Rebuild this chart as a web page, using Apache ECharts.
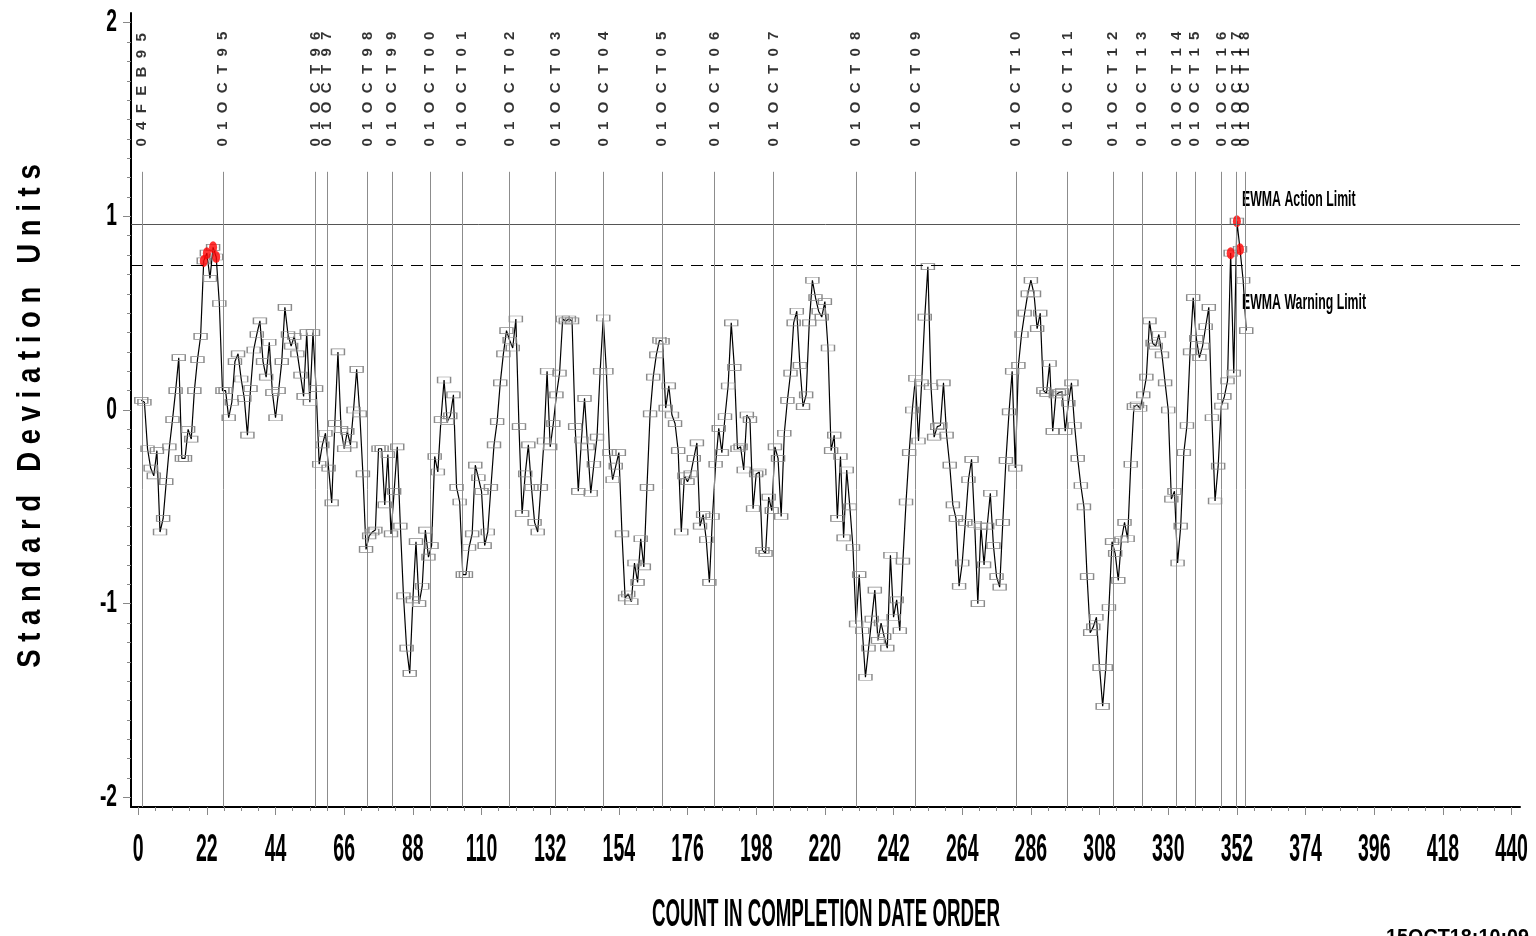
<!DOCTYPE html>
<html><head><meta charset="utf-8">
<script src="https://cdn.jsdelivr.net/npm/echarts@6/dist/echarts.min.js"></script>
<style>html,body{margin:0;padding:0;background:#fff;}#c{width:1536px;height:936px;}</style>
</head><body><div id="c"></div>
<script>
// EWMA values (standard deviation units), one per count 1..355, in completion-date order
const ewma = [
 0.05, 0.04,-0.2,-0.3,-0.34,-0.21,-0.63,-0.56,-0.37,-0.19,
-0.05, 0.1, 0.27,-0.25,-0.25,-0.1,-0.15, 0.1, 0.26, 0.38,
 0.77, 0.81, 0.68, 0.84, 0.79, 0.55, 0.1, 0.1,-0.04, 0.04,
 0.25, 0.29, 0.16, 0.06,-0.13, 0.11, 0.31, 0.39, 0.46, 0.25,
 0.17, 0.35, 0.09,-0.04, 0.1, 0.25, 0.53, 0.39, 0.33, 0.38,
 0.29, 0.18, 0.07, 0.4, 0.04, 0.4, 0.11,-0.28,-0.18,-0.12,
-0.3,-0.48,-0.07, 0.3,-0.1,-0.2,-0.11,-0.18, 0, 0.21,
-0.02,-0.33,-0.72,-0.65,-0.63,-0.62,-0.2,-0.2,-0.49,-0.23,
-0.64,-0.42,-0.19,-0.6,-0.96,-1.23,-1.36,-0.98,-0.68,-1.0,
-0.91,-0.62,-0.76,-0.70,-0.24,-0.32,-0.05, 0.155,-0.06,-0.03,
 0.078,-0.40,-0.475,-0.85,-0.85,-0.71,-0.64,-0.285,-0.35,-0.42,
-0.70,-0.63,-0.40,-0.18,-0.06, 0.14, 0.29, 0.41, 0.36, 0.32,
 0.47,-0.086,-0.535,-0.33,-0.18,-0.40,-0.58,-0.63,-0.40,-0.16,
 0.2,-0.19,-0.07, 0.078, 0.19, 0.47, 0.46, 0.47, 0.46,-0.086,
-0.42,-0.155, 0.06,-0.19,-0.43,-0.28,-0.14, 0.2, 0.475, 0.2,
-0.22,-0.36,-0.29,-0.22,-0.64,-0.97,-0.95,-0.99,-0.79,-0.89,
-0.665,-0.81,-0.40,-0.02, 0.17, 0.285, 0.36, 0.355, 0.01, 0.125,
-0.026,-0.07,-0.21,-0.63,-0.34,-0.37,-0.33,-0.25,-0.17,-0.60,
-0.54,-0.67,-0.89,-0.55,-0.28,-0.095,-0.22,-0.035, 0.124, 0.45,
 0.22,-0.2,-0.19,-0.31,-0.026,-0.05,-0.51,-0.33,-0.32,-0.725,
-0.74,-0.45,-0.52,-0.19,-0.25,-0.55,-0.12, 0.05, 0.19, 0.45,
 0.51, 0.23, 0.017, 0.078, 0.45, 0.67, 0.58, 0.51, 0.48, 0.56,
 0.32,-0.21,-0.13,-0.56,-0.24,-0.66,-0.31,-0.5,-0.71,-1.105,
-0.85,-1.14,-1.38,-1.23,-1.08,-0.93,-1.19,-1.10,-1.17,-1.23,
-0.75,-1.07,-0.98,-1.14,-0.78,-0.475,-0.22, 0.0, 0.164,-0.16,
 0.14, 0.48, 0.74, 0.12,-0.14,-0.086,-0.08, 0.14,-0.13,-0.285,
-0.49,-0.56,-0.91,-0.79,-0.58,-0.36,-0.255,-0.59,-1.0,-0.6,
-0.80,-0.6,-0.43,-0.7,-0.86,-0.915,-0.58,-0.26,-0.01, 0.2,
-0.30, 0.23, 0.39, 0.5, 0.6, 0.67, 0.6, 0.42, 0.50, 0.10,
 0.086, 0.24,-0.11, 0.078, 0.09, 0.095,-0.11, 0.035, 0.14,-0.08,
-0.25,-0.39,-0.50,-0.86,-1.15,-1.12,-1.07,-1.33,-1.53,-1.33,
-1.02,-0.68,-0.74,-0.88,-0.67,-0.58,-0.665,-0.28, 0.017, 0.026,
 0.009, 0.078, 0.17, 0.46, 0.345, 0.33, 0.39, 0.285, 0.14, 0.0,
-0.46,-0.42,-0.79,-0.6,-0.22,-0.08, 0.30, 0.58, 0.37, 0.27,
 0.33, 0.43, 0.53,-0.04,-0.47,-0.29, 0.02, 0.07, 0.15, 0.81,
 0.19, 0.975, 0.83, 0.67, 0.41
];
const xTicks = [0,22,44,66,88,110,132,154,176,198,220,242,264,286,308,330,352,374,396,418,440];
const yTicks = [-2,-1,0,1,2];
const refX = [1.3,27.2,56.8,60.6,73.5,81.4,93.5,103.8,119.0,133.7,149.1,167.9,184.6,203.6,229.9,249.0,281.2,297.7,312.3,321.7,332.7,338.6,347.1,351.9,354.6];
const refLabels = ['04FEB95','01OCT95','01OCT96','01OCT97','01OCT98','01OCT99','01OCT00','01OCT01','01OCT02','01OCT03','01OCT04','01OCT05','01OCT06','01OCT07','01OCT08','01OCT09','01OCT10','01OCT11','01OCT12','01OCT13','01OCT14','01OCT15','01OCT16','01OCT17','01OCT18'];
const actionLimit = 0.96;
const warningLimit = 0.75;
const actionLabel = 'EWMA Action Limit';
const warningLabel = 'EWMA Warning Limit';
const xTitle = 'COUNT IN COMPLETION DATE ORDER';
const yTitle = 'Standard Deviation Units';
const stamp = '15OCT18:10:09';

const X_MIN = -2.3, X_MAX = 442.7, Y_MIN = -2.05, Y_MAX = 2.05;
const REF_TOP = 1.23, REF_LABEL = 1.36;
const SANS = '"Liberation Sans",Arial,Helvetica,sans-serif';

const xMinor = [];
for (let i = 0; i < xTicks.length - 1; i++) { const s = (xTicks[i+1]-xTicks[i])/4; for (let k=1;k<4;k++) xMinor.push(xTicks[i]+k*s); }
const yMinor = [];
for (let i = 0; i < yTicks.length - 1; i++) { for (let k=1;k<10;k++) yMinor.push(+(yTicks[i]+k*(yTicks[i+1]-yTicks[i])/10).toFixed(2)); }

const spaced = (s, sep) => s.split('').join(sep);
const points = ewma.map((v,i)=>[i+1, v]);
const flagged = points.filter(p => p[1] > warningLimit);

const chart = echarts.init(document.getElementById('c'), null, {renderer:'canvas'});
const axisCommon = {type:'value', splitLine:{show:false}};
chart.setOption({
  animation:false,
  backgroundColor:'#fff',
  grid:{left:131, right:16, top:13, bottom:129, containLabel:false},
  xAxis:[
    Object.assign({}, axisCommon, {min:X_MIN, max:X_MAX, position:'bottom',
      axisLine:{show:true, onZero:false, lineStyle:{color:'#000', width:2}},
      axisTick:{show:true, customValues:xTicks, length:8, lineStyle:{color:'#888'}},
      axisLabel:{show:false}}),
    Object.assign({}, axisCommon, {min:X_MIN, max:X_MAX, position:'bottom', offset:0,
      axisLine:{show:false, onZero:false}, axisLabel:{show:false},
      axisTick:{show:true, customValues:xMinor, length:4, lineStyle:{color:'#888'}}})
  ],
  yAxis:[
    Object.assign({}, axisCommon, {min:Y_MIN, max:Y_MAX, position:'left',
      axisLine:{show:true, onZero:false, lineStyle:{color:'#000', width:2}},
      axisTick:{show:true, customValues:yTicks, length:8, lineStyle:{color:'#888'}},
      axisLabel:{show:false}}),
    Object.assign({}, axisCommon, {min:Y_MIN, max:Y_MAX, position:'left', offset:0,
      axisLine:{show:false, onZero:false}, axisLabel:{show:false},
      axisTick:{show:true, customValues:yMinor, length:4, lineStyle:{color:'#888'}}})
  ],
  series:[
    {
      type:'line', data:points, xAxisIndex:0, yAxisIndex:0, z:3,
      showAllSymbol:true, symbol:'rect', symbolSize:[13,6],
      lineStyle:{color:'#000', width:1.2},
      itemStyle:{color:'rgba(0,0,0,0)', borderColor:'#8a8a8a', borderWidth:1},
      emphasis:{disabled:true},
      markLine:{silent:true, symbol:'none', label:{show:false},
        data:[
          {yAxis:actionLimit, lineStyle:{type:'solid', color:'#555', width:1}},
          {yAxis:warningLimit, lineStyle:{type:[12,8], color:'#000', width:1.2}}
        ]}
    },
    {
      type:'scatter', data:flagged, z:4, symbol:'circle', symbolSize:[8,12],
      itemStyle:{color:'#ff0000'}, emphasis:{disabled:true}
    },
    {
      type:'scatter', z:2, symbolSize:0,
      data: refX.map((x,i)=>({value:[x, REF_LABEL], name:refLabels[i]})),
      label:{show:true, position:'inside', rotate:90, align:'left', verticalAlign:'middle',
        formatter:(p)=>spaced(p.name,'  '), fontFamily:SANS, fontWeight:'bold', fontSize:15, color:'#000'},
      emphasis:{disabled:true},
      markLine:{silent:true, symbol:'none', label:{show:false},
        lineStyle:{type:'solid', color:'#8c8c8c', width:1},
        data: refX.map(x=>[{coord:[x, Y_MIN]},{coord:[x, REF_TOP]}])}
    }
  ]
});

// condensed tick labels and titles, placed through the chart's own axis scales
const txt = (x, y, s, font, sx, align, va, rot) => ({type:'text', x:x, y:y, scaleX:sx, rotation:rot||0, silent:true,
  style:{text:s, x:0, y:0, font:font, fill:'#000', align:align, verticalAlign:va, textAlign:align, textVerticalAlign:va}});
const axisY = chart.convertToPixel({yAxisIndex:0}, Y_MIN);
const axisX = chart.convertToPixel({xAxisIndex:0}, X_MIN);
const g = [];
xTicks.forEach(v => g.push(txt(chart.convertToPixel({xAxisIndex:0}, v), axisY + 43, String(v), 'bold 39px '+SANS, 0.5, 'center', 'middle')));
yTicks.forEach(v => g.push(txt(axisX - 14, chart.convertToPixel({yAxisIndex:0}, v), String(v), 'bold 31px '+SANS, 0.62, 'right', 'middle')));
const actPx = chart.convertToPixel({yAxisIndex:0}, actionLimit);
const warnPx = chart.convertToPixel({yAxisIndex:0}, warningLimit);
g.push(txt(1242, actPx - 24, actionLabel, 'bold 22px '+SANS, 0.56, 'left', 'middle'));
g.push(txt(1242, warnPx + 38, warningLabel, 'bold 22px '+SANS, 0.56, 'left', 'middle'));
g.push(txt(826, axisY + 108, xTitle, 'bold 39px '+SANS, 0.48, 'center', 'middle'));
g.push(txt(1386, 927, stamp, 'bold 22px '+SANS, 0.9, 'left', 'top'));
const yTitleText = yTitle.split(' ').map(w => spaced(w, ' ')).join('   ');
g.push(txt(31, 416, yTitleText, 'bold 34px '+SANS, 0.81, 'center', 'middle', Math.PI/2));
chart.setOption({graphic: g});
</script></body></html>
